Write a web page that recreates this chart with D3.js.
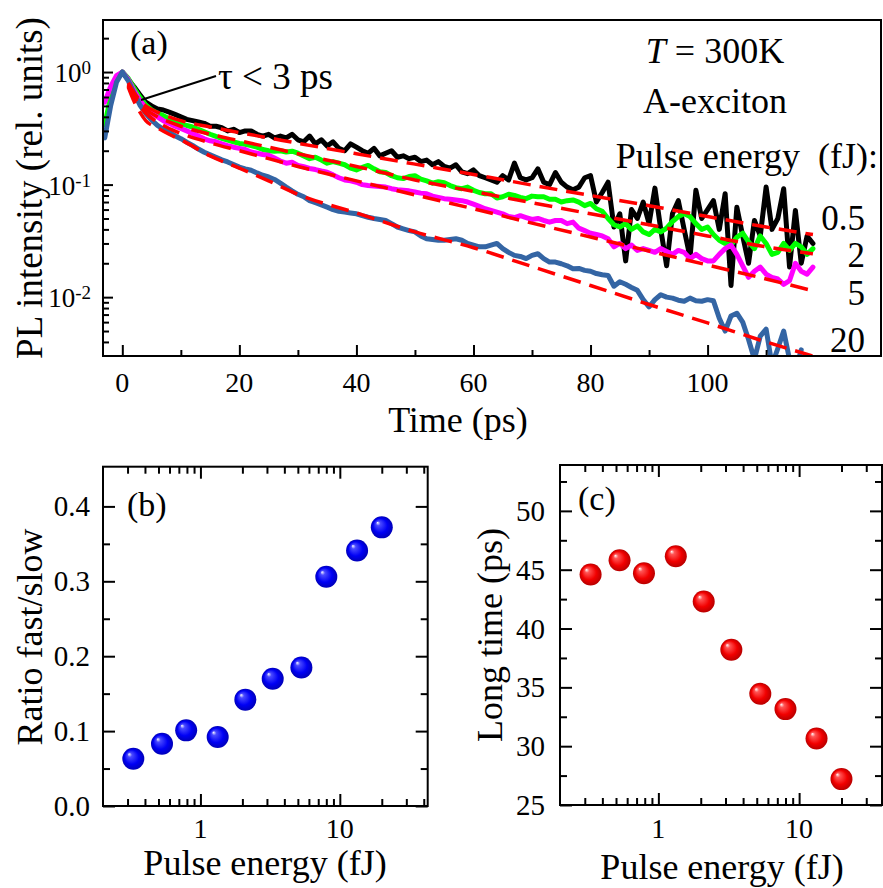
<!DOCTYPE html>
<html><head><meta charset="utf-8">
<script src="https://cdn.jsdelivr.net/npm/d3@7"></script>
<style>
body{margin:0;background:#fff}
svg text{font-family:"Liberation Serif","Times New Roman",serif !important;fill:#000}
</style>
</head><body>
<svg id="c" width="883" height="888" xmlns="http://www.w3.org/2000/svg" style="font-family:'Liberation Serif',serif"></svg>
<script>
// ---------------- DATA ----------------
// Panel (a): time axis (ps), one sample per ps from -3 to 118
const times = d3.range(-3, 119);
const pl05 = [null,null,0.85,1.0,0.86,0.74,0.63,0.54,0.50,0.47,0.46,0.44,0.42,0.40,0.38,0.37,0.36,0.35,0.33,0.33,0.32,0.30,0.31,0.29,0.30,0.30,0.28,0.27,0.28,0.26,0.27,0.26,0.28,0.25,0.24,0.27,0.23,0.25,0.22,0.24,0.21,0.20,0.23,0.215,0.20,0.19,0.21,0.18,0.19,0.20,0.175,0.18,0.17,0.175,0.16,0.165,0.15,0.16,0.145,0.14,0.15,0.13,0.125,
0.135,0.12,0.115,0.11,0.105,0.12,0.11,0.155,0.115,0.11,0.115,0.138,0.105,0.10,0.128,0.105,0.095,0.09,0.095,0.115,0.12,0.07,0.085,0.105,0.042,0.055,0.021,0.06,0.05,0.07,0.045,0.093,0.04,0.019,0.055,0.072,0.04,0.0226,0.089,0.05,0.06,0.072,0.04,0.083,0.0127,0.063,0.035,0.02,0.048,0.035,0.095,0.04,0.05,0.092,0.0185,0.059,0.02,0.035,0.03];
const pl2 = [0.34,0.6,0.88,1.0,0.88,0.72,0.60,0.51,0.46,0.43,0.41,0.385,0.365,0.35,0.335,0.325,0.31,0.295,0.28,0.268,0.258,0.248,0.24,0.232,0.228,0.222,0.215,0.205,0.2,0.198,0.2,0.195,0.198,0.19,0.18,0.17,0.175,0.165,0.155,0.16,0.155,0.15,0.14,0.135,0.142,0.148,0.138,0.13,0.128,0.12,0.115,0.113,0.118,0.12,0.112,0.108,0.103,0.106,0.104,0.098,0.094,0.092,0.095,
0.089,0.085,0.083,0.083,0.076,0.078,0.082,0.08,0.077,0.075,0.079,0.078,0.078,0.074,0.074,0.07,0.072,0.073,0.07,0.065,0.068,0.061,0.058,0.05,0.044,0.042,0.045,0.040,0.043,0.038,0.036,0.04,0.038,0.041,0.047,0.052,0.055,0.052,0.045,0.04,0.042,0.036,0.032,0.03,0.029,0.034,0.037,0.031,0.027,0.035,0.03,0.024,0.025,0.03,0.026,0.03,0.028,0.024,0.027];
const pl5 = [0.54,0.74,0.93,1.0,0.86,0.68,0.56,0.48,0.43,0.40,0.37,0.35,0.33,0.315,0.30,0.285,0.27,0.255,0.245,0.24,0.23,0.222,0.215,0.21,0.205,0.195,0.19,0.185,0.182,0.172,0.162,0.155,0.158,0.148,0.144,0.139,0.136,0.132,0.129,0.122,0.115,0.11,0.108,0.105,0.10,0.098,0.097,0.096,0.095,0.092,0.09,0.089,0.088,0.086,0.084,0.083,0.079,0.077,0.075,0.074,0.073,0.072,0.07,
0.067,0.064,0.061,0.059,0.057,0.055,0.052,0.051,0.053,0.051,0.049,0.05,0.048,0.0464,0.048,0.048,0.045,0.0464,0.041,0.039,0.037,0.036,0.035,0.033,0.028,0.03,0.027,0.029,0.026,0.027,0.026,0.025,0.027,0.0255,0.024,0.026,0.025,0.022,0.024,0.022,0.021,0.021,0.024,0.027,0.029,0.024,0.019,0.015,0.017,0.0185,0.016,0.015,0.0145,0.013,0.014,0.02,0.017,0.016,0.0185];
const pl20 = [0.26,0.5,0.81,1.0,0.84,0.65,0.51,0.43,0.375,0.336,0.31,0.29,0.272,0.256,0.238,0.223,0.207,0.194,0.184,0.175,0.166,0.159,0.151,0.143,0.138,0.134,0.127,0.121,0.117,0.111,0.103,0.095,0.088,0.082,0.078,0.072,0.069,0.066,0.063,0.06,0.058,0.057,0.056,0.055,0.053,0.0513,0.05,0.049,0.048,0.045,0.042,0.0405,0.039,0.038,0.035,0.033,0.0325,0.032,0.032,0.0325,0.033,0.032,0.030,
0.029,0.028,0.028,0.029,0.030,0.027,0.025,0.0235,0.023,0.022,0.0235,0.0243,0.022,0.0205,0.0205,0.0198,0.019,0.0179,0.018,0.0173,0.017,0.0162,0.0158,0.0156,0.0125,0.0137,0.013,0.0122,0.0115,0.0095,0.0082,0.0095,0.0105,0.010,0.0098,0.0094,0.0092,0.0098,0.0093,0.0092,0.0095,0.0093,0.0065,0.005,0.0068,0.0072,0.006,0.0042,0.0028,0.0045,0.0052,0.0025,0.0035,0.005,0.0028,0.0022,0.0034,null,null];

// Biexponential fits (red dashed)
const fitTimes = [1,2,3,4,6,8,10,15,20,25,30,40,50,60,70,80,90,100,110,118];
const fit05 = [0.80,0.66,0.56,0.50,0.44,0.40,0.37,0.325,0.29,0.26,0.233,0.188,0.152,0.123,0.099,0.080,0.065,0.052,0.042,0.036];
const fit2  = [0.78,0.63,0.53,0.47,0.40,0.36,0.33,0.28,0.245,0.215,0.188,0.145,0.11,0.087,0.069,0.055,0.044,0.035,0.028,0.0243];
const fit5  = [0.76,0.60,0.50,0.43,0.36,0.315,0.285,0.235,0.20,0.17,0.145,0.108,0.081,0.061,0.0455,0.0342,0.0257,0.0193,0.0145,0.0114];
const fit20 = [0.74,0.55,0.44,0.37,0.32,0.28,0.25,0.18,0.14,0.108,0.082,0.056,0.038,0.0275,0.0187,0.0127,0.0086,0.0059,0.0040,0.0030];

const seriesNames = ["0.5","2","5","20"];
const seriesColors = ["#000000","#00ff00","#ff00ff","#3465a4"];

// Panels (b) and (c)
const energies = [0.33,0.53,0.79,1.33,2.1,3.3,5.3,8.0,13.3,20.0];
const ratio    = [0.063,0.083,0.101,0.092,0.142,0.170,0.185,0.306,0.341,0.372];
const longTime = [44.6,45.8,44.7,46.15,42.3,38.2,34.45,33.15,30.65,27.2];

// Tick values / labels
const timeTicks = [0,20,40,60,80,100];
const timeMinor = [10,30,50,70,90,110];
const plTicks = [0.01,0.1,1];
const plTickExp = ["-2","-1","0"];
const plMinor = [0.004,0.005,0.006,0.007,0.008,0.009,0.02,0.03,0.04,0.05,0.06,0.07,0.08,0.09,0.2,0.3,0.4,0.5,0.6,0.7,0.8,0.9,2];
const energyTicks = [1,10];
const energyMinorB = [0.3,0.4,0.5,0.6,0.7,0.8,0.9,2,3,4,5,6,7,8,9,20,30,40];
const energyMinorC = [0.3,0.4,0.5,0.6,0.7,0.8,0.9,2,3,4,5,6,7,8,9,20,30];
const ratioTicks = [0.0,0.1,0.2,0.3,0.4];
const ratioMinor = [0.05,0.15,0.25,0.35];
const timeCTicks = [25,30,35,40,45,50];
const timeCMinor = [27.5,32.5,37.5,42.5,47.5,52.5];

// ---------------- DRAW ----------------
const FONT = "'Liberation Serif','Times New Roman',serif";
const svg = d3.select("#c");
svg.append("rect").attr("width",883).attr("height",888).attr("fill","#fff");
const defs = svg.append("defs");

function tickAxis(g, axis, size){
  g.call(axis.tickSize(size).tickFormat(""));
  g.select(".domain").remove();
  g.selectAll("text").remove();
  g.selectAll("line").attr("stroke","#000").attr("stroke-width",2);
}
function txt(parent, x, y, size, s, anchor){
  return parent.append("text").attr("x",x).attr("y",y).attr("font-size",size)
    .attr("font-family",FONT).style("font-family",FONT)
    .attr("text-anchor",anchor||"start").text(s);
}

// ===== Panel (a) =====
const A = {l:103, r:881, t:20, b:356};
const xA = d3.scaleLinear().domain([-3.3,129.8]).range([103,882]);
const yA = d3.scaleLog().domain([0.003,2.9]).range([A.b,A.t]);

defs.append("clipPath").attr("id","clipA").append("rect")
  .attr("x",A.l).attr("y",A.t).attr("width",A.r-A.l).attr("height",A.b-A.t);

const gA = svg.append("g");
const dataLayer = gA.append("g").attr("clip-path","url(#clipA)");
const lineA = d3.line().defined(d=>d[1]!=null).x(d=>xA(d[0])).y(d=>yA(d[1]));
[pl05,pl2,pl5,pl20].forEach((s,i)=>{
  dataLayer.append("path").datum(times.map((t,k)=>[t,s[k]]))
    .attr("d",lineA).attr("fill","none").attr("stroke",seriesColors[i])
    .attr("stroke-width",5).attr("stroke-linejoin","round").attr("stroke-linecap","round");
});
const fitLine = d3.line().x(d=>xA(d[0])).y(d=>yA(d[1])).curve(d3.curveMonotoneX);
[fit05,fit2,fit5,fit20].forEach(f=>{
  dataLayer.append("path").datum(fitTimes.map((t,k)=>[t,f[k]]))
    .attr("d",fitLine).attr("fill","none").attr("stroke","#ff0000")
    .attr("stroke-width",3.5).attr("stroke-dasharray","18,9");
});

gA.append("rect").attr("x",A.l).attr("y",A.t).attr("width",A.r-A.l).attr("height",A.b-A.t)
  .attr("fill","none").attr("stroke","#000").attr("stroke-width",2);
tickAxis(gA.append("g").attr("transform",`translate(0,${A.b})`), d3.axisBottom(xA).tickValues(timeTicks), -11);
tickAxis(gA.append("g").attr("transform",`translate(0,${A.b})`), d3.axisBottom(xA).tickValues(timeMinor), -6);
tickAxis(gA.append("g").attr("transform",`translate(${A.l},0)`), d3.axisLeft(yA).tickValues(plTicks), -10);
tickAxis(gA.append("g").attr("transform",`translate(${A.l},0)`), d3.axisLeft(yA).tickValues(plMinor), -6);

timeTicks.forEach(d=>txt(gA, xA(d), 392, 28, d, "middle"));
plTicks.forEach((v,i)=>{
  const t = txt(gA, 91, yA(v)+10, 27, "", "end");
  t.append("tspan").text("10");
  t.append("tspan").attr("dy",-8).attr("font-size",19).text(plTickExp[i]);
});

txt(gA, 0, 0, 37, "PL intensity (rel. units)", "middle").attr("transform","translate(42,188) rotate(-90)");
txt(gA, 458, 432, 36, "Time (ps)", "middle");
txt(gA, 130, 54, 34, "(a)");
gA.append("line").attr("x1",141).attr("y1",100).attr("x2",216).attr("y2",76).attr("stroke","#000").attr("stroke-width",2);
txt(gA, 218, 89, 37, "\u03C4 < 3 ps");

const tT = txt(gA, 715, 63, 36, "", "middle");
tT.append("tspan").attr("font-style","italic").text("T");
tT.append("tspan").text(" = 300K");
txt(gA, 715, 113, 36, "A-exciton", "middle");
txt(gA, 878, 168, 36, "Pulse energy\u00A0 (fJ):", "end");
const labelY = [230,267,305,352];
seriesNames.forEach((n,i)=>txt(gA, 865, labelY[i], 35, n, "end"));

// ===== Sphere gradients =====
function grad(id,c0,c1,c2){
  const g = defs.append("radialGradient").attr("id",id).attr("cx","50%").attr("cy","50%").attr("r","50%").attr("fx","30%").attr("fy","28%");
  g.append("stop").attr("offset","0%").attr("stop-color","#ffffff");
  g.append("stop").attr("offset","20%").attr("stop-color",c0);
  g.append("stop").attr("offset","65%").attr("stop-color",c1);
  g.append("stop").attr("offset","100%").attr("stop-color",c2);
}
grad("gBlue","#4a4aff","#0000f5","#0000b8");
grad("gRed","#ff5555","#f20000","#b80000");

// ===== Panel (b) =====
const B = {l:103, r:427.7, t:466.7, b:806};
const xB = d3.scaleLog().domain([0.2,42.7]).range([B.l,B.r]);
const yB = d3.scaleLinear().domain([0,0.453]).range([B.b,B.t]);
const gB = svg.append("g");
gB.append("rect").attr("x",B.l).attr("y",B.t).attr("width",B.r-B.l).attr("height",B.b-B.t)
  .attr("fill","none").attr("stroke","#000").attr("stroke-width",2);
tickAxis(gB.append("g").attr("transform",`translate(0,${B.b})`), d3.axisBottom(xB).tickValues(energyTicks), -12);
tickAxis(gB.append("g").attr("transform",`translate(0,${B.b})`), d3.axisBottom(xB).tickValues(energyMinorB), -7);
tickAxis(gB.append("g").attr("transform",`translate(0,${B.t})`), d3.axisTop(xB).tickValues(energyTicks), -12);
tickAxis(gB.append("g").attr("transform",`translate(0,${B.t})`), d3.axisTop(xB).tickValues(energyMinorB), -7);
tickAxis(gB.append("g").attr("transform",`translate(${B.l},0)`), d3.axisLeft(yB).tickValues(ratioTicks), -12);
tickAxis(gB.append("g").attr("transform",`translate(${B.l},0)`), d3.axisLeft(yB).tickValues(ratioMinor), -7);
tickAxis(gB.append("g").attr("transform",`translate(${B.r},0)`), d3.axisRight(yB).tickValues(ratioTicks), -12);
tickAxis(gB.append("g").attr("transform",`translate(${B.r},0)`), d3.axisRight(yB).tickValues(ratioMinor), -7);
ratioTicks.forEach(d=>txt(gB, 90, yB(d)+10, 29, d.toFixed(1), "end"));
energyTicks.forEach(d=>txt(gB, xB(d), 838, 28, d, "middle"));
gB.append("g").selectAll("circle").data(energies).join("circle")
  .attr("cx",d=>xB(d)).attr("cy",(d,i)=>yB(ratio[i])).attr("r",11).attr("fill","url(#gBlue)");
txt(gB, 127, 516, 34, "(b)");
txt(gB, 0, 0, 36, "Ratio fast/slow", "middle").attr("transform","translate(42,637) rotate(-90)");
txt(gB, 265, 875, 36, "Pulse energy (fJ)", "middle");

// ===== Panel (c) =====
const C = {l:560, r:882, t:465, b:805};
const xC = d3.scaleLog().domain([0.2,39]).range([C.l,882.3]);
const yC = d3.scaleLinear().domain([25,53.9]).range([C.b,C.t]);
const gC = svg.append("g");
gC.append("rect").attr("x",C.l).attr("y",C.t).attr("width",C.r-C.l).attr("height",C.b-C.t)
  .attr("fill","none").attr("stroke","#000").attr("stroke-width",2);
tickAxis(gC.append("g").attr("transform",`translate(0,${C.b})`), d3.axisBottom(xC).tickValues(energyTicks), -12);
tickAxis(gC.append("g").attr("transform",`translate(0,${C.b})`), d3.axisBottom(xC).tickValues(energyMinorC), -7);
tickAxis(gC.append("g").attr("transform",`translate(0,${C.t})`), d3.axisTop(xC).tickValues(energyTicks), -12);
tickAxis(gC.append("g").attr("transform",`translate(0,${C.t})`), d3.axisTop(xC).tickValues(energyMinorC), -7);
tickAxis(gC.append("g").attr("transform",`translate(${C.l},0)`), d3.axisLeft(yC).tickValues(timeCTicks), -12);
tickAxis(gC.append("g").attr("transform",`translate(${C.l},0)`), d3.axisLeft(yC).tickValues(timeCMinor), -7);
tickAxis(gC.append("g").attr("transform",`translate(${C.r},0)`), d3.axisRight(yC).tickValues(timeCTicks), -12);
tickAxis(gC.append("g").attr("transform",`translate(${C.r},0)`), d3.axisRight(yC).tickValues(timeCMinor), -7);
timeCTicks.forEach(d=>txt(gC, 545, yC(d)+10, 29, d, "end"));
energyTicks.forEach(d=>txt(gC, xC(d), 838, 28, d, "middle"));
gC.append("g").selectAll("circle").data(energies).join("circle")
  .attr("cx",d=>xC(d)).attr("cy",(d,i)=>yC(longTime[i])).attr("r",11).attr("fill","url(#gRed)");
txt(gC, 578, 510, 34, "(c)");
txt(gC, 0, 0, 36, "Long time (ps)", "middle").attr("transform","translate(502,635) rotate(-90)");
txt(gC, 722, 879, 36, "Pulse energy (fJ)", "middle");
</script>
</body></html>
